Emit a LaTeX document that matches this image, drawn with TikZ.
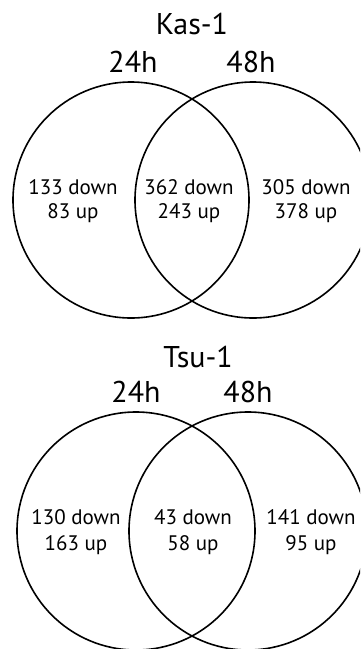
\documentclass[tikz,border=0pt]{standalone}
\usepackage{fontspec}
\setmainfont{PT Sans}
\begin{document}
\begin{tikzpicture}[x=1pt,y=-1pt,
  ring/.style={draw=black,line width=1.6pt},
  title/.style={anchor=base,inner sep=0pt,font=\fontsize{30}{34}\selectfont},
  count/.style={anchor=base,inner sep=0pt,font=\fontsize{21}{24}\selectfont}]
  \clip (0,0) rectangle (360,649);
  \fill[white] (0,0) rectangle (360,649);

  % Kas-1
  \node[title] (kas) at (192,34) {Kas-1};
  \node[title] (k24) at (133,72) {24h};
  \node[title] (k48) at (251,72) {48h};
  \coordinate (kl) at (131,200);
  \coordinate (kr) at (253,200);
  \draw[ring] (kl) circle[radius=118];
  \draw[ring] (kr) circle[radius=118];
  \node[count] (kld) at (73,194) {133 down};
  \node[count] (klu) at (73,218) {83 up};
  \node[count] (kmd) at (189,194) {362 down};
  \node[count] (kmu) at (189,218) {243 up};
  \node[count] (krd) at (306,194) {305 down};
  \node[count] (kru) at (306,218) {378 up};

  % Tsu-1
  \node[title] (tsu) at (198,367) {Tsu-1};
  \node[title] (t24) at (136,402) {24h};
  \node[title] (t48) at (248,402) {48h};
  \coordinate (tl) at (136,531);
  \coordinate (tr) at (248,531);
  \draw[ring] (tl) circle[radius=119];
  \draw[ring] (tr) circle[radius=119];
  \node[count] (tld) at (76,524) {130 down};
  \node[count] (tlu) at (76,550) {163 up};
  \node[count] (tmd) at (193,524) {43 down};
  \node[count] (tmu) at (193,550) {58 up};
  \node[count] (trd) at (311,524) {141 down};
  \node[count] (tru) at (311,550) {95 up};
\end{tikzpicture}
\end{document}
